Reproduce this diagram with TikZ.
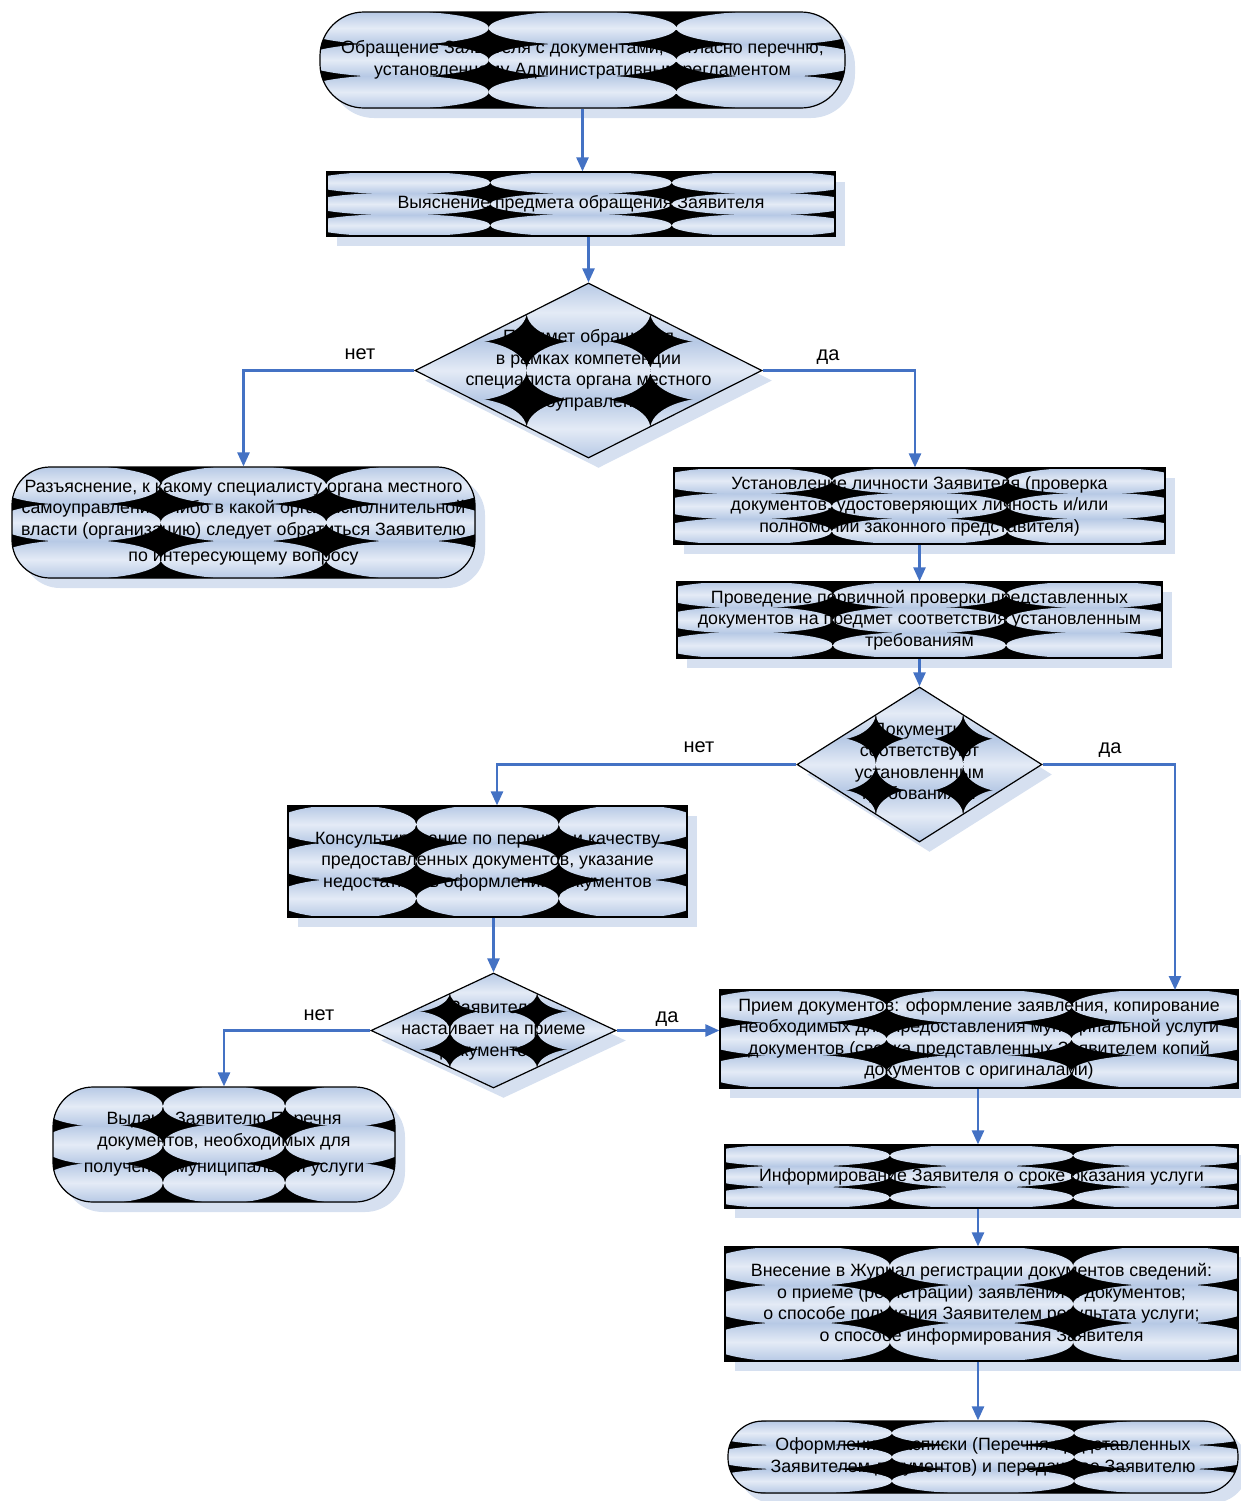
\documentclass[tikz,border=0pt]{standalone}
\usepackage{fontspec}
\setmainfont{Liberation Sans}
\usetikzlibrary{shapes.geometric,arrows.meta,shadows,calc,backgrounds}
\definecolor{patA}{RGB}{180,199,228}
\definecolor{patB}{RGB}{228,235,246}
\definecolor{shd}{RGB}{214,224,240}
\definecolor{arrc}{RGB}{68,114,196}
\makeatletter
\tikzset{
  pat/.style={path picture={%
    \pgfpointdiff{\pgfpointanchor{path picture bounding box}{south west}}{\pgfpointanchor{path picture bounding box}{north east}}%
    \edef\patW{\pgf@sys@tonumber\pgf@x}\edef\patH{\pgf@sys@tonumber\pgf@y}%
    \pgfmathsetmacro\patTW{\patW/2.8}%
    \pgfmathsetmacro\patTH{\patH/3}%
    \pgfmathsetmacro\patRX{\patTW/2}%
    \pgfmathsetmacro\patRY{\patTH*0.53}%
    \fill[black] (path picture bounding box.south west) rectangle (path picture bounding box.north east);
    \foreach \i in {-2,...,2}{\foreach \j in {-2,...,2}{%
      \pgfmathsetmacro\patX{\i*\patTW}\pgfmathsetmacro\patY{\j*\patTH}%
      \shade[top color=patA,bottom color=patA,middle color=patB] ([shift={(\patX pt,\patY pt)}]path picture bounding box.center) ellipse [x radius=\patRX pt, y radius=\patRY pt];
    }}%
  }},
  shad/.style={drop shadow={fill=shd,draw=none,opacity=1,shadow xshift=5pt,shadow yshift=-5pt}},
  base/.style={shad,pat,draw=black,line width=0.6pt,inner sep=0pt,align=center,
    font=\fontsize{8.9}{10.75}\selectfont},
  procbox/.style={base,rectangle},
  termbox/.style={base,rectangle,rounded corners=#1},
  termbox/.default=17pt,
  diabox/.style={base,diamond},
  txt/.style={inner sep=0pt,align=center,font=\fontsize{8.9}{10.75}\selectfont},
  lbl/.style={inner sep=0pt,font=\fontsize{10}{12}\selectfont},
  arr/.style={draw=arrc,line width=1.25pt,-{Triangle[length=7pt,width=6pt]}}
}
\makeatother
\begin{document}
\begin{tikzpicture}[x=0.5pt,y=-0.5pt]
\useasboundingbox (0,0) rectangle (1241,1501);

\node[termbox=22pt,minimum width=262.5pt,minimum height=48pt] (t1) at (582.5,60)
  {Обращение Заявителя с документами, согласно перечню,\\установленному Административным регламентом};
\node[procbox,minimum width=254pt,minimum height=32pt] (b1) at (581,204)
  {Выяснение предмета обращения Заявителя};
\node[diabox,minimum width=173.5pt,minimum height=87.5pt] (d1) at (588.5,370.5) {};
\node[txt] (d1t) at (d1) {Предмет обращения\\в рамках компетенции\\специалиста органа местного\\самоуправления?};
\node[termbox=19pt,minimum width=231.5pt,minimum height=55.5pt] (l1) at (243.5,522.5)
  {Разъяснение, к какому специалисту органа местного\\самоуправления, либо в какой орган исполнительной\\власти (организацию) следует обратиться Заявителю\\[2.5pt]по интересующему  вопросу};
\node[procbox,minimum width=245.5pt,minimum height=38pt] (r1) at (919.5,506)
  {Установление личности Заявителя (проверка\\документов, удостоверяющих личность и/или\\полномочий законного представителя)};
\node[procbox,minimum width=242.5pt,minimum height=38pt] (r2) at (919.5,620)
  {Проведение первичной проверки представленных\\документов на предмет соответствия установленным\\требованиям};
\node[diabox,minimum width=122.5pt,minimum height=77.5pt] (d2) at (919.5,764.5) {};
\node[txt] (d2t) at ([yshift=0.75pt]d2) {Документы\\соответствуют\\установленным\\требованиям?};
\node[procbox,minimum width=199.5pt,minimum height=55.5pt] (k1) at (487.5,861.5)
  {Консультирование по перечню и качеству\\предоставленных документов, указание\\недостатков в оформлении документов};
\node[diabox,minimum width=122.5pt,minimum height=57.5pt] (d3) at (493.5,1030.5) {};
\node[txt] (d3t) at (d3) {Заявитель\\настаивает на приеме\\документов?};
\node[termbox=20pt,minimum width=171pt,minimum height=57.5pt] (l2) at (224,1144.5)
  {Выдача Заявителю Перечня\\документов, необходимых для\\[2.5pt]получения муниципальной услуги};
\node[procbox,minimum width=259pt,minimum height=49pt] (p1) at (979,1039)
  {Прием документов: оформление заявления, копирование\\необходимых для предоставления муниципальной услуги\\документов (сверка представленных Заявителем копий\\документов с оригиналами)};
\node[procbox,minimum width=256.5pt,minimum height=31.5pt] (i1) at (981.5,1176.5)
  {Информирование Заявителя о сроке оказания услуги};
\node[procbox,minimum width=256.5pt,minimum height=57pt] (v1) at (981.5,1304)
  {Внесение в Журнал регистрации документов сведений:\\о приеме (регистрации) заявления и документов;\\о способе получения Заявителем результата услуги;\\о способе информирования Заявителя};
\node[termbox=17.5pt,minimum width=255pt,minimum height=36pt] (t2) at (983,1457)
  {Оформление Расписки (Перечня представленных\\Заявителем документов) и передача ее Заявителю};

\coordinate (pin) at (1175,990);

\draw[arr] (t1.south) -- (t1.south |- b1.north);
\draw[arr] (d1.north |- b1.south) -- (d1.north);
\draw[arr] (d1.west) -| (l1.north);
\draw[arr] (d1.east) -| ([xshift=-2.25pt]r1.north);
\draw[arr] (r1.south) -- (r2.north);
\draw[arr] (r2.south) -- (d2.north);
\draw[arr] (d2.west) -| ([xshift=4.75pt]k1.north);
\draw[arr] (d2.east) -| (pin);
\draw[arr] (d3.north |- k1.south) -- (d3.north);
\draw[arr] (d3.west) -| (l2.north);
\draw[arr] (d3.east) -- (d3.east -| p1.west);
\draw[arr] ([xshift=-0.5pt]p1.south) -- ([xshift=-0.5pt]p1.south |- i1.north);
\draw[arr] ([xshift=-1.75pt]i1.south) -- ([xshift=-1.75pt]i1.south |- v1.north);
\draw[arr] ([xshift=-1.75pt]v1.south) -- ([xshift=-1.75pt]v1.south |- t2.north);

\node[lbl] (n1) at (360,354) {нет};
\node[lbl] (y1) at (828,357) {да};
\node[lbl] (n2) at (699,747) {нет};
\node[lbl] (y2) at (1110,750) {да};
\node[lbl] (n3) at (319,1015) {нет};
\node[lbl] (y3) at (667,1019) {да};
\end{tikzpicture}
\end{document}
